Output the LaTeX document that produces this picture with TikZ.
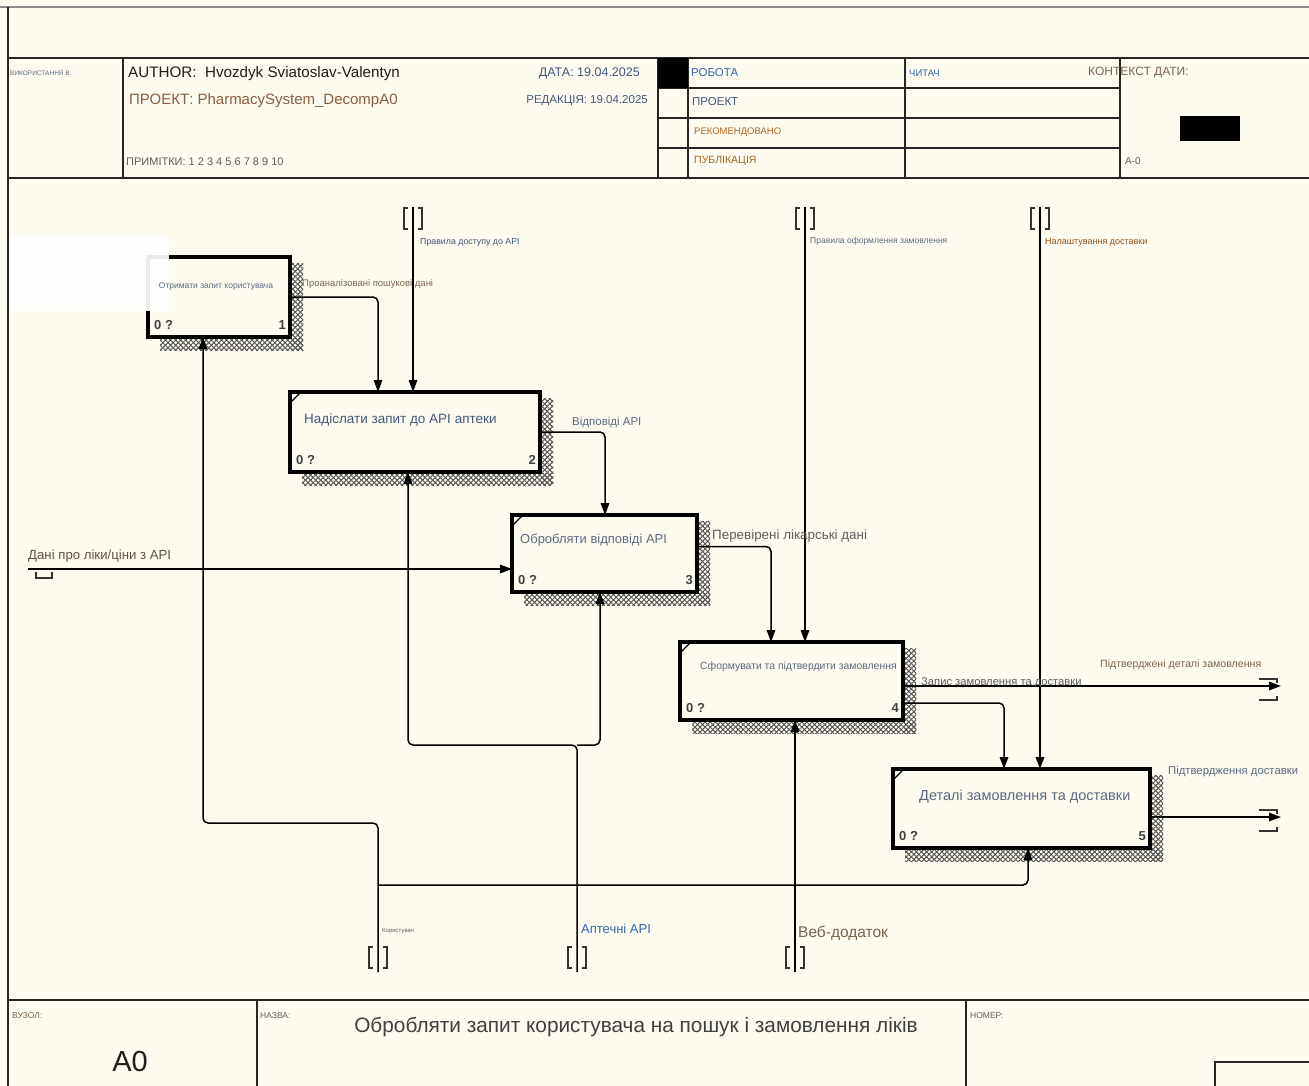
\documentclass[tikz,border=0pt]{standalone}
\usepackage{fontspec}
\setmainfont{Liberation Sans}
\usetikzlibrary{arrows.meta,patterns.meta,calc}
\definecolor{paper}{HTML}{FDFAF0}
\definecolor{ink}{HTML}{1E1E1E}
\definecolor{brownish}{HTML}{8C5E3C}
\definecolor{slateblue}{HTML}{44587A}
\definecolor{linkblue}{HTML}{3567A8}
\definecolor{amber}{HTML}{B0661E}
\definecolor{taupe}{HTML}{7A6650}
\definecolor{greyblue}{HTML}{5C6A80}
\definecolor{greytext}{HTML}{5E5E5E}
\newcommand{\fsz}[1]{\fontsize{#1}{#1}\selectfont}
% activity box: name, x, y, width, height (hatched shadow first, then the box)
\newcommand{\procbox}[5]{%
  \fill[hatch] (#2+#4+1.5,#3+6) rectangle (#2+#4+13,#3+#5+13);
  \fill[hatch] (#2+12,#3+#5+1.5) rectangle (#2+#4+13,#3+#5+13);
  \fill[hatchb] (#2+#4+1.5,#3+6) rectangle (#2+#4+13,#3+#5+13);
  \fill[hatchb] (#2+12,#3+#5+1.5) rectangle (#2+#4+13,#3+#5+13);
  \node[proc, minimum width=#4pt, minimum height=#5pt] (#1) at (#2,#3) {};
}
% corner tick of an activity box
\newcommand{\cornertick}[1]{%
  \draw[line width=1.3pt] ($(#1.north west)+(0,11)$) -- ($(#1.north west)+(11,0)$);}
% vertical tunnel brackets: x, top, bottom
\newcommand{\vtunnel}[3]{%
  \draw[tun] (#1-5,#2) -- (#1-9,#2) -- (#1-9,#3) -- (#1-5,#3);
  \draw[tun] (#1+5,#2) -- (#1+9,#2) -- (#1+9,#3) -- (#1+5,#3);}
\begin{document}
\begin{tikzpicture}[x=1pt,y=-1pt,
  rule/.style={line width=1.4pt, draw=black!85},
  proc/.style={draw=black, line width=3.6pt, fill=paper, anchor=north west, inner sep=0pt, outer sep=0pt},
  hatch/.style={pattern={Hatch[angle=45,distance=3.6pt,line width=0.7pt]}, pattern color=black!65},
  hatchb/.style={pattern={Hatch[angle=-45,distance=3.6pt,line width=0.7pt]}, pattern color=black!65},
  flow/.style={line width=1.5pt, rounded corners=5pt, -{Triangle[length=12pt,width=8.5pt]}},
  tun/.style={line width=1.9pt, draw=black!80},
  txt/.style={inner sep=0pt, anchor=west},
]
\useasboundingbox[fill=paper] (0,0) rectangle (1309,1086);

% ---------- sheet frame ----------
\draw[line width=1.6pt, draw=black!45] (0,7) -- (1309,7);
\draw[rule] (8,7) -- (8,1086);

% ---------- header ----------
\draw[rule] (8,58) -- (1309,58);
\draw[rule] (8,178) -- (1309,178);
\draw[rule] (123,58) -- (123,178);
\draw[rule] (658,58) -- (658,178);
\draw[rule] (688,58) -- (688,178);
\draw[rule] (905,58) -- (905,178);
\draw[rule] (1120,58) -- (1120,178);
\draw[rule] (658,88) -- (1120,88);
\draw[rule] (658,118) -- (1120,118);
\draw[rule] (658,148) -- (1120,148);
\fill[black] (658,58) rectangle (688,88);
\fill[black] (1180,116) rectangle (1240,141);

\node[txt, text=greyblue, font=\fsz{6.5}] (used) at (10,73) {ВИКОРИСТАННЯ В:};
\node[txt, text=ink, font=\fsz{15.2}] (author) at (128,74) {AUTHOR:\ \ Hvozdyk Sviatoslav-Valentyn};
\node[txt, text=brownish, font=\fsz{15}] (project) at (129,101) {ПРОЕКТ: PharmacySystem\_DecompA0};
\node[txt, text=greytext, font=\fsz{11}] (notes) at (126,162) {ПРИМІТКИ: 1 2 3 4 5 6 7 8 9 10};
\node[txt, anchor=east, text=slateblue, font=\fsz{12.5}] (date) at (640,73) {ДАТА: 19.04.2025};
\node[txt, anchor=east, text=slateblue, font=\fsz{11.5}] (rev) at (648,101) {РЕДАКЦІЯ: 19.04.2025};
\node[txt, text=linkblue, font=\fsz{11.5}] (work) at (691,73) {РОБОТА};
\node[txt, text=slateblue, font=\fsz{11.5}] (draft) at (692,102) {ПРОЕКТ};
\node[txt, text=amber, font=\fsz{9.5}] (recom) at (694,132) {РЕКОМЕНДОВАНО};
\node[txt, text=amber, font=\fsz{10.5}] (publ) at (694,161) {ПУБЛІКАЦІЯ};
\node[txt, text=linkblue, font=\fsz{9.5}] (reader) at (909,73) {ЧИТАЧ};
\node[txt, text=taupe, font=\fsz{12}] (context) at (1088,73) {КОНТЕКСТ ДАТИ:};
\node[txt, text=greytext, font=\fsz{10}] (sheet) at (1125,161) {A-0};

% ---------- activity boxes ----------
\procbox{b1}{148}{257}{142}{80}
\procbox{b2}{290}{392}{250}{80}
\procbox{b3}{512}{515}{185}{77}
\procbox{b4}{680}{642}{223}{78}
\procbox{b5}{893}{769}{257}{79}
\cornertick{b2}
\cornertick{b3}
\cornertick{b4}
\cornertick{b5}

% smudged patch over the upper left of the first box
\fill[white, opacity=0.92] (10,235) rectangle (169,311);

\node[text=greyblue, font=\fsz{8.5}, inner sep=0pt] (b1t) at (216,286) {Отримати запит користувача};
\node[txt, text=slateblue, font=\fsz{13.5}] (b2t) at (304,420) {Надіслати запит до API аптеки};
\node[txt, text=greyblue, font=\fsz{13}] (b3t) at (520,540) {Обробляти відповіді API};
\node[txt, text=greyblue, font=\fsz{10.4}] (b4t) at (700,667) {Сформувати та підтвердити замовлення};
\node[txt, text=greyblue, font=\fsz{14.5}] (b5t) at (919,797) {Деталі замовлення та доставки};

\foreach \b/\n in {b1/1,b2/2,b3/3,b4/4,b5/5}{
  \node[txt, text=black!75, font=\fsz{13}\bfseries] (\b z) at ([xshift=6pt,yshift=12pt]\b.south west) {0 ?};
  \node[txt, anchor=east, text=black!75, font=\fsz{13}\bfseries] (\b n) at ([xshift=-4pt,yshift=12pt]\b.south east) {\n};
}

% ---------- connector anchors ----------
\coordinate (k1) at (413,207);
\coordinate (k2) at (805,207);
\coordinate (k3) at (1040,207);
\coordinate (m1) at (378,972);
\coordinate (m2) at (577,972);
\coordinate (m3) at (795,972);
\coordinate (in1) at (28,569);
\coordinate (o1) at (1281,0);
\coordinate (c12) at (378,0);
\coordinate (c23) at (605,0);
\coordinate (c34) at (771,0);
\coordinate (c45) at (1004,0);
\coordinate (c5m) at (1028,0);
\coordinate (u1) at (203,823);
\coordinate (u2) at (378,885);
\coordinate (a1) at (577,745);
\coordinate (a2) at (408,0);
\coordinate (a3) at (600,0);
\coordinate (b3o) at ([yshift=7pt]b3.east);
\coordinate (b4o1) at ([yshift=-5pt]b4.east);
\coordinate (b4o2) at ([yshift=-22pt]b4.east);
\coordinate (b5o) at ([yshift=-8.5pt]b5.east);

% ---------- outputs to inputs ----------
\draw[flow] (b1.east) -| (c12 |- b2.north);
\draw[flow] (b2.east) -| (c23 |- b3.north);
\draw[flow] (b3o) -| (c34 |- b4.north);
\draw[flow] (b4o2) -| (c45 |- b5.north);

% ---------- external input ----------
\draw[flow] (in1) -- (in1 -| b3.west);
\draw[tun] (36,572) -- (36,578) -- (52,578) -- (52,572);

% ---------- controls ----------
\draw[flow] (k1) -- (k1 |- b2.north);
\draw[flow] (k2) -- (k2 |- b4.north);
\draw[flow] (k3) -- (k3 |- b5.north);
\vtunnel{413}{208}{229}
\vtunnel{805}{208}{229}
\vtunnel{1040}{208}{229}

% ---------- outputs ----------
\draw[flow] (b4o1) -- (b4o1 -| o1);
\draw[flow] (b5o) -- (b5o -| o1);
\draw[tun] (1259,679) -- (1277,679) -- (1277,683);
\draw[tun] (1259,700) -- (1277,700) -- (1277,696);
\draw[tun] (1259,810) -- (1277,810) -- (1277,814);
\draw[tun] (1259,831) -- (1277,831) -- (1277,827);

% ---------- mechanisms ----------
\draw[flow] (m1) |- (u1) -- (u1 |- b1.south);
\draw[flow] (u2) -| (c5m |- b5.south);
\draw[flow] (m2) -- (a1) -| (a2 |- b2.south);
\draw[flow] (a1) -| (a3 |- b3.south);
\draw[flow] (m3) -- (m3 |- b4.south);
\vtunnel{378}{947}{968}
\vtunnel{577}{947}{968}
\vtunnel{795}{947}{968}

% ---------- arrow labels ----------
\node[txt, text=taupe, font=\fsz{9.5}] (l1) at (302,284) {Проаналізовані пошукові дані};
\node[txt, text=slateblue, font=\fsz{8.8}] (l2) at (420,242) {Правила доступу до API};
\node[txt, text=greyblue, font=\fsz{11.5}] (l3) at (572,422) {Відповіді API};
\node[txt, text=taupe!80!black, font=\fsz{13.2}] (l4) at (28,556) {Дані про ліки/ціни з API};
\node[txt, text=greytext, font=\fsz{13.4}] (l5) at (712,536) {Перевірені лікарські дані};
\node[txt, text=greyblue, font=\fsz{8.5}] (l6) at (810,241) {Правила оформлення замовлення};
\node[txt, text=amber!80!black, font=\fsz{9}] (l7) at (1045,242) {Налаштування доставки};
\node[txt, text=taupe, font=\fsz{10.6}] (l8) at (1100,665) {Підтверджені деталі замовлення};
\node[txt, text=greytext, font=\fsz{11.2}] (l9) at (921,683) {Запис замовлення та доставки};
\node[txt, text=greyblue, font=\fsz{11.3}] (l10) at (1168,772) {Підтвердження доставки};
\node[txt, text=greytext, font=\fsz{6}] (l11) at (382,931) {Користувач};
\node[txt, text=linkblue, font=\fsz{13}] (l12) at (581,929) {Аптечні API};
\node[txt, text=taupe, font=\fsz{15.5}] (l13) at (798,933) {Веб-додаток};

% ---------- footer ----------
\draw[rule] (8,1000) -- (1309,1000);
\draw[rule] (257,1000) -- (257,1086);
\draw[rule] (966,1000) -- (966,1086);
\draw[rule] (1309,1062) -- (1215,1062) -- (1215,1086);
\node[txt, text=taupe, font=\fsz{8.5}] (node) at (12,1016) {ВУЗОЛ:};
\node[txt, text=greytext, font=\fsz{8.5}] (title) at (260,1016) {НАЗВА:};
\node[txt, text=greytext, font=\fsz{8.5}] (number) at (970,1016) {НОМЕР:};
\node[text=ink, font=\fsz{29}, inner sep=0pt] (nodeid) at (130,1062) {A0};
\node[text=black!75, font=\fsz{20.8}, inner sep=0pt] (titletext) at (636,1027) {Обробляти запит користувача на пошук і замовлення ліків};
\end{tikzpicture}
\end{document}
